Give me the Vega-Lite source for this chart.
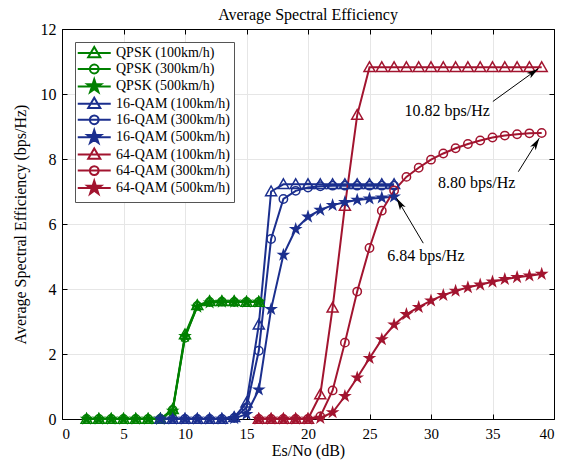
{
  "$schema": "https://vega.github.io/schema/vega-lite/v6.json",
  "width": 492,
  "height": 390,
  "autosize": {"type": "none"},
  "padding": {"left": 62, "top": 29, "right": 13, "bottom": 50},
  "background": "white",
  "title": {"text": "Average Spectral Efficiency", "font": "Liberation Serif", "fontSize": 16, "fontWeight": "normal", "color": "black", "offset": -2},
  "config": {
    "view": {"stroke": null},
    "axis": {
      "labelFont": "Liberation Serif", "labelFontSize": 16, "labelColor": "black",
      "titleFont": "Liberation Serif", "titleFontSize": 16, "titleFontWeight": "normal", "titleColor": "black",
      "domainColor": "black", "domainWidth": 1, "tickColor": "black", "tickWidth": 1,
      "gridColor": "#e6e6e6", "gridWidth": 1
    }
  },
  "resolve": {"axis": {"x": "independent", "y": "independent"}},
  "datasets": {
    "se": [
      {"s":"QPSK (100km/h)","x":2,"y":0},{"s":"QPSK (100km/h)","x":3,"y":0},{"s":"QPSK (100km/h)","x":4,"y":0},{"s":"QPSK (100km/h)","x":5,"y":0},{"s":"QPSK (100km/h)","x":6,"y":0},{"s":"QPSK (100km/h)","x":7,"y":0},{"s":"QPSK (100km/h)","x":8,"y":0},{"s":"QPSK (100km/h)","x":9,"y":0.3},{"s":"QPSK (100km/h)","x":10,"y":2.6},{"s":"QPSK (100km/h)","x":11,"y":3.5},{"s":"QPSK (100km/h)","x":12,"y":3.62},{"s":"QPSK (100km/h)","x":13,"y":3.62},{"s":"QPSK (100km/h)","x":14,"y":3.62},{"s":"QPSK (100km/h)","x":15,"y":3.6},{"s":"QPSK (100km/h)","x":16,"y":3.6},
      {"s":"QPSK (300km/h)","x":2,"y":0},{"s":"QPSK (300km/h)","x":3,"y":0},{"s":"QPSK (300km/h)","x":4,"y":0},{"s":"QPSK (300km/h)","x":5,"y":0},{"s":"QPSK (300km/h)","x":6,"y":0},{"s":"QPSK (300km/h)","x":7,"y":0},{"s":"QPSK (300km/h)","x":8,"y":0},{"s":"QPSK (300km/h)","x":9,"y":0.28},{"s":"QPSK (300km/h)","x":10,"y":2.5},{"s":"QPSK (300km/h)","x":11,"y":3.48},{"s":"QPSK (300km/h)","x":12,"y":3.6},{"s":"QPSK (300km/h)","x":13,"y":3.61},{"s":"QPSK (300km/h)","x":14,"y":3.6},{"s":"QPSK (300km/h)","x":15,"y":3.6},{"s":"QPSK (300km/h)","x":16,"y":3.6},
      {"s":"QPSK (500km/h)","x":2,"y":0},{"s":"QPSK (500km/h)","x":3,"y":0},{"s":"QPSK (500km/h)","x":4,"y":0},{"s":"QPSK (500km/h)","x":5,"y":0},{"s":"QPSK (500km/h)","x":6,"y":0},{"s":"QPSK (500km/h)","x":7,"y":0},{"s":"QPSK (500km/h)","x":8,"y":0},{"s":"QPSK (500km/h)","x":9,"y":0.25},{"s":"QPSK (500km/h)","x":10,"y":2.55},{"s":"QPSK (500km/h)","x":11,"y":3.45},{"s":"QPSK (500km/h)","x":12,"y":3.58},{"s":"QPSK (500km/h)","x":13,"y":3.6},{"s":"QPSK (500km/h)","x":14,"y":3.6},{"s":"QPSK (500km/h)","x":15,"y":3.6},{"s":"QPSK (500km/h)","x":16,"y":3.6},
      {"s":"16-QAM (100km/h)","x":8,"y":0},{"s":"16-QAM (100km/h)","x":9,"y":0},{"s":"16-QAM (100km/h)","x":10,"y":0},{"s":"16-QAM (100km/h)","x":11,"y":0},{"s":"16-QAM (100km/h)","x":12,"y":0},{"s":"16-QAM (100km/h)","x":13,"y":0},{"s":"16-QAM (100km/h)","x":14,"y":0.05},{"s":"16-QAM (100km/h)","x":15,"y":0.5},{"s":"16-QAM (100km/h)","x":16,"y":2.9},{"s":"16-QAM (100km/h)","x":17,"y":7.0},{"s":"16-QAM (100km/h)","x":18,"y":7.22},{"s":"16-QAM (100km/h)","x":19,"y":7.22},{"s":"16-QAM (100km/h)","x":20,"y":7.22},{"s":"16-QAM (100km/h)","x":21,"y":7.22},{"s":"16-QAM (100km/h)","x":22,"y":7.22},{"s":"16-QAM (100km/h)","x":23,"y":7.22},{"s":"16-QAM (100km/h)","x":24,"y":7.22},{"s":"16-QAM (100km/h)","x":25,"y":7.22},{"s":"16-QAM (100km/h)","x":26,"y":7.22},{"s":"16-QAM (100km/h)","x":27,"y":7.22},
      {"s":"16-QAM (300km/h)","x":8,"y":0},{"s":"16-QAM (300km/h)","x":9,"y":0},{"s":"16-QAM (300km/h)","x":10,"y":0},{"s":"16-QAM (300km/h)","x":11,"y":0},{"s":"16-QAM (300km/h)","x":12,"y":0},{"s":"16-QAM (300km/h)","x":13,"y":0},{"s":"16-QAM (300km/h)","x":14,"y":0.03},{"s":"16-QAM (300km/h)","x":15,"y":0.35},{"s":"16-QAM (300km/h)","x":16,"y":2.1},{"s":"16-QAM (300km/h)","x":17,"y":5.54},{"s":"16-QAM (300km/h)","x":18,"y":6.77},{"s":"16-QAM (300km/h)","x":19,"y":7.02},{"s":"16-QAM (300km/h)","x":20,"y":7.12},{"s":"16-QAM (300km/h)","x":21,"y":7.16},{"s":"16-QAM (300km/h)","x":22,"y":7.18},{"s":"16-QAM (300km/h)","x":23,"y":7.18},{"s":"16-QAM (300km/h)","x":24,"y":7.18},{"s":"16-QAM (300km/h)","x":25,"y":7.18},{"s":"16-QAM (300km/h)","x":26,"y":7.18},{"s":"16-QAM (300km/h)","x":27,"y":7.18},
      {"s":"16-QAM (500km/h)","x":8,"y":0},{"s":"16-QAM (500km/h)","x":9,"y":0},{"s":"16-QAM (500km/h)","x":10,"y":0},{"s":"16-QAM (500km/h)","x":11,"y":0},{"s":"16-QAM (500km/h)","x":12,"y":0},{"s":"16-QAM (500km/h)","x":13,"y":0},{"s":"16-QAM (500km/h)","x":14,"y":0.02},{"s":"16-QAM (500km/h)","x":15,"y":0.15},{"s":"16-QAM (500km/h)","x":16,"y":0.9},{"s":"16-QAM (500km/h)","x":17,"y":3.38},{"s":"16-QAM (500km/h)","x":18,"y":5.05},{"s":"16-QAM (500km/h)","x":19,"y":5.84},{"s":"16-QAM (500km/h)","x":20,"y":6.22},{"s":"16-QAM (500km/h)","x":21,"y":6.43},{"s":"16-QAM (500km/h)","x":22,"y":6.58},{"s":"16-QAM (500km/h)","x":23,"y":6.67},{"s":"16-QAM (500km/h)","x":24,"y":6.74},{"s":"16-QAM (500km/h)","x":25,"y":6.78},{"s":"16-QAM (500km/h)","x":26,"y":6.81},{"s":"16-QAM (500km/h)","x":27,"y":6.84},
      {"s":"64-QAM (100km/h)","x":16,"y":0},{"s":"64-QAM (100km/h)","x":17,"y":0},{"s":"64-QAM (100km/h)","x":18,"y":0},{"s":"64-QAM (100km/h)","x":19,"y":0},{"s":"64-QAM (100km/h)","x":20,"y":0},{"s":"64-QAM (100km/h)","x":21,"y":0.75},{"s":"64-QAM (100km/h)","x":22,"y":3.42},{"s":"64-QAM (100km/h)","x":23,"y":6.55},{"s":"64-QAM (100km/h)","x":24,"y":9.35},{"s":"64-QAM (100km/h)","x":25,"y":10.82},{"s":"64-QAM (100km/h)","x":26,"y":10.82},{"s":"64-QAM (100km/h)","x":27,"y":10.82},{"s":"64-QAM (100km/h)","x":28,"y":10.82},{"s":"64-QAM (100km/h)","x":29,"y":10.82},{"s":"64-QAM (100km/h)","x":30,"y":10.82},{"s":"64-QAM (100km/h)","x":31,"y":10.82},{"s":"64-QAM (100km/h)","x":32,"y":10.82},{"s":"64-QAM (100km/h)","x":33,"y":10.82},{"s":"64-QAM (100km/h)","x":34,"y":10.82},{"s":"64-QAM (100km/h)","x":35,"y":10.82},{"s":"64-QAM (100km/h)","x":36,"y":10.82},{"s":"64-QAM (100km/h)","x":37,"y":10.82},{"s":"64-QAM (100km/h)","x":38,"y":10.82},{"s":"64-QAM (100km/h)","x":39,"y":10.82},
      {"s":"64-QAM (300km/h)","x":16,"y":0},{"s":"64-QAM (300km/h)","x":17,"y":0},{"s":"64-QAM (300km/h)","x":18,"y":0},{"s":"64-QAM (300km/h)","x":19,"y":0},{"s":"64-QAM (300km/h)","x":20,"y":0},{"s":"64-QAM (300km/h)","x":21,"y":0.08},{"s":"64-QAM (300km/h)","x":22,"y":0.88},{"s":"64-QAM (300km/h)","x":23,"y":2.35},{"s":"64-QAM (300km/h)","x":24,"y":3.92},{"s":"64-QAM (300km/h)","x":25,"y":5.26},{"s":"64-QAM (300km/h)","x":26,"y":6.41},{"s":"64-QAM (300km/h)","x":27,"y":7.03},{"s":"64-QAM (300km/h)","x":28,"y":7.45},{"s":"64-QAM (300km/h)","x":29,"y":7.73},{"s":"64-QAM (300km/h)","x":30,"y":7.98},{"s":"64-QAM (300km/h)","x":31,"y":8.17},{"s":"64-QAM (300km/h)","x":32,"y":8.33},{"s":"64-QAM (300km/h)","x":33,"y":8.46},{"s":"64-QAM (300km/h)","x":34,"y":8.57},{"s":"64-QAM (300km/h)","x":35,"y":8.66},{"s":"64-QAM (300km/h)","x":36,"y":8.72},{"s":"64-QAM (300km/h)","x":37,"y":8.76},{"s":"64-QAM (300km/h)","x":38,"y":8.79},{"s":"64-QAM (300km/h)","x":39,"y":8.8},
      {"s":"64-QAM (500km/h)","x":16,"y":0},{"s":"64-QAM (500km/h)","x":17,"y":0},{"s":"64-QAM (500km/h)","x":18,"y":0},{"s":"64-QAM (500km/h)","x":19,"y":0},{"s":"64-QAM (500km/h)","x":20,"y":0},{"s":"64-QAM (500km/h)","x":21,"y":0.03},{"s":"64-QAM (500km/h)","x":22,"y":0.2},{"s":"64-QAM (500km/h)","x":23,"y":0.7},{"s":"64-QAM (500km/h)","x":24,"y":1.27},{"s":"64-QAM (500km/h)","x":25,"y":1.87},{"s":"64-QAM (500km/h)","x":26,"y":2.45},{"s":"64-QAM (500km/h)","x":27,"y":2.9},{"s":"64-QAM (500km/h)","x":28,"y":3.22},{"s":"64-QAM (500km/h)","x":29,"y":3.44},{"s":"64-QAM (500km/h)","x":30,"y":3.64},{"s":"64-QAM (500km/h)","x":31,"y":3.81},{"s":"64-QAM (500km/h)","x":32,"y":3.94},{"s":"64-QAM (500km/h)","x":33,"y":4.05},{"s":"64-QAM (500km/h)","x":34,"y":4.13},{"s":"64-QAM (500km/h)","x":35,"y":4.22},{"s":"64-QAM (500km/h)","x":36,"y":4.3},{"s":"64-QAM (500km/h)","x":37,"y":4.36},{"s":"64-QAM (500km/h)","x":38,"y":4.41},{"s":"64-QAM (500km/h)","x":39,"y":4.46}
    ],
    "ann": [
      {"t":"10.82 bps/Hz","tx":31.32,"ty":9.48,"x1":35.03,"y1":9.77,"x2":38.72,"y2":10.78},
      {"t":"8.80 bps/Hz","tx":33.72,"ty":7.26,"x1":37.1,"y1":7.61,"x2":38.8,"y2":8.64},
      {"t":"6.84 bps/Hz","tx":29.58,"ty":5.02,"x1":29.37,"y1":5.41,"x2":27.21,"y2":6.79}
    ]
  },
  "layer": [
    {
      "data": {"name": "se"},
      "mark": {"type": "line", "strokeWidth": 2},
      "encoding": {
        "x": {"field": "x", "type": "quantitative", "scale": {"domain": [0, 40], "nice": false},
              "axis": {"orient": "bottom", "title": "Es/No (dB)", "values": [0,5,10,15,20,25,30,35,40], "tickSize": -5, "labelFontSize": 15, "labelPadding": 12, "titlePadding": 1, "grid": true}},
        "y": {"field": "y", "type": "quantitative", "scale": {"domain": [0, 12], "nice": false},
              "axis": {"orient": "left", "title": "Average Spectral Efficiency (bps/Hz)", "values": [0,2,4,6,8,10,12], "tickSize": -5, "labelPadding": 11, "titlePadding": 12, "grid": true}},
        "color": {"field": "s", "type": "nominal", "legend": null,
          "scale": {"range": ["#1b2f8e","#1b2f8e","#1b2f8e","#a2142f","#a2142f","#a2142f","#008000","#008000","#008000"]}}
      }
    },
    {
      "data": {"name": "se"},
      "transform": [{"filter": "indexof(datum.s,'100km')>=0"}],
      "mark": {"type": "point", "shape": "M0,-1L1,0.75L-1,0.75Z", "filled": false, "size": 121, "strokeWidth": 1.5, "opacity": 1},
      "encoding": {
        "x": {"field": "x", "type": "quantitative", "axis": {"orient": "top", "labels": false, "title": null, "grid": false, "values": [0,5,10,15,20,25,30,35,40], "tickSize": -5}},
        "y": {"field": "y", "type": "quantitative", "axis": {"orient": "right", "labels": false, "title": null, "grid": false, "values": [0,2,4,6,8,10,12], "tickSize": -5}},
        "color": {"field": "s", "type": "nominal", "legend": null}
      }
    },
    {
      "data": {"name": "se"},
      "transform": [{"filter": "indexof(datum.s,'300km')>=0"}],
      "mark": {"type": "point", "shape": "circle", "filled": false, "size": 70, "strokeWidth": 1.5, "opacity": 1},
      "encoding": {
        "x": {"field": "x", "type": "quantitative", "axis": null},
        "y": {"field": "y", "type": "quantitative", "axis": null},
        "color": {"field": "s", "type": "nominal", "legend": null}
      }
    },
    {
      "data": {"name": "se"},
      "transform": [{"filter": "indexof(datum.s,'500km')>=0"}],
      "mark": {"type": "point", "shape": "M0,-1L0.225,-0.309L0.951,-0.309L0.363,0.118L0.588,0.809L0,0.382L-0.588,0.809L-0.363,0.118L-0.951,-0.309L-0.225,-0.309Z", "filled": true, "size": 210, "opacity": 1},
      "encoding": {
        "x": {"field": "x", "type": "quantitative", "axis": null},
        "y": {"field": "y", "type": "quantitative", "axis": null},
        "color": {"field": "s", "type": "nominal", "legend": null}
      }
    },
    {
      "data": {"name": "se"},
      "transform": [{"filter": "false"}],
      "mark": {"type": "point", "filled": true, "size": 121, "strokeWidth": 2, "opacity": 1},
      "encoding": {
        "x": {"field": "x", "type": "quantitative", "axis": null},
        "y": {"field": "y", "type": "quantitative", "axis": null},
        "stroke": {"field": "s", "type": "nominal",
          "scale": {"domain": ["QPSK (100km/h)","QPSK (300km/h)","QPSK (500km/h)","16-QAM (100km/h)","16-QAM (300km/h)","16-QAM (500km/h)","64-QAM (100km/h)","64-QAM (300km/h)","64-QAM (500km/h)"],
                    "range": ["#008000","#008000","#008000","#1b2f8e","#1b2f8e","#1b2f8e","#a2142f","#a2142f","#a2142f"]},
          "legend": {
            "orient": "top-left", "offset": 13, "title": null,
            "labelFont": "Liberation Serif", "labelFontSize": 14, "labelColor": "black",
            "symbolSize": 121, "symbolStrokeWidth": 2, "symbolOpacity": 1, "labelOffset": 23,
            "padding": 4, "rowPadding": -3.6, "strokeColor": "#555555", "fillColor": "white"
          }},
        "fill": {"field": "s", "type": "nominal",
          "scale": {"domain": ["QPSK (100km/h)","QPSK (300km/h)","QPSK (500km/h)","16-QAM (100km/h)","16-QAM (300km/h)","16-QAM (500km/h)","64-QAM (100km/h)","64-QAM (300km/h)","64-QAM (500km/h)"],
                    "range": ["white","white","#008000","white","white","#1b2f8e","white","white","#a2142f"]},
          "legend": {"title": null, "orient": "top-left"}},
        "shape": {"field": "s", "type": "nominal",
          "scale": {"domain": ["QPSK (100km/h)","QPSK (300km/h)","QPSK (500km/h)","16-QAM (100km/h)","16-QAM (300km/h)","16-QAM (500km/h)","64-QAM (100km/h)","64-QAM (300km/h)","64-QAM (500km/h)"],
                    "range": [
                      "M-1.5,0L4.5,0M1.5,-1.1L2.6,0.75L0.4,0.75Z",
                      "M-1.5,0L4.5,0M2.3,0C2.3,0.442 1.942,0.8 1.5,0.8C1.058,0.8 0.7,0.442 0.7,0C0.7,-0.442 1.058,-0.8 1.5,-0.8C1.942,-0.8 2.3,-0.442 2.3,0Z",
                      "M-1.5,0L4.5,0M1.5,-1.3L1.79,-0.399L2.736,-0.402L1.969,0.152L2.264,1.052L1.5,0.494L0.736,1.052L1.031,0.152L0.264,-0.402L1.21,-0.399Z",
                      "M-1.5,0L4.5,0M1.5,-1.1L2.6,0.75L0.4,0.75Z",
                      "M-1.5,0L4.5,0M2.3,0C2.3,0.442 1.942,0.8 1.5,0.8C1.058,0.8 0.7,0.442 0.7,0C0.7,-0.442 1.058,-0.8 1.5,-0.8C1.942,-0.8 2.3,-0.442 2.3,0Z",
                      "M-1.5,0L4.5,0M1.5,-1.3L1.79,-0.399L2.736,-0.402L1.969,0.152L2.264,1.052L1.5,0.494L0.736,1.052L1.031,0.152L0.264,-0.402L1.21,-0.399Z",
                      "M-1.5,0L4.5,0M1.5,-1.1L2.6,0.75L0.4,0.75Z",
                      "M-1.5,0L4.5,0M2.3,0C2.3,0.442 1.942,0.8 1.5,0.8C1.058,0.8 0.7,0.442 0.7,0C0.7,-0.442 1.058,-0.8 1.5,-0.8C1.942,-0.8 2.3,-0.442 2.3,0Z",
                      "M-1.5,0L4.5,0M1.5,-1.3L1.79,-0.399L2.736,-0.402L1.969,0.152L2.264,1.052L1.5,0.494L0.736,1.052L1.031,0.152L0.264,-0.402L1.21,-0.399Z"
                    ]},
          "legend": {"title": null, "orient": "top-left"}}
      }
    },
    {
      "data": {"name": "ann"},
      "mark": {"type": "rule", "color": "black", "strokeWidth": 1},
      "encoding": {
        "x": {"field": "x1", "type": "quantitative", "axis": null},
        "y": {"field": "y1", "type": "quantitative", "axis": null},
        "x2": {"field": "x2"},
        "y2": {"field": "y2"}
      }
    },
    {
      "data": {"name": "ann"},
      "mark": {"type": "text", "font": "Liberation Serif", "fontSize": 16, "color": "black", "align": "center", "baseline": "middle"},
      "encoding": {
        "x": {"field": "tx", "type": "quantitative", "axis": null},
        "y": {"field": "ty", "type": "quantitative", "axis": null},
        "text": {"field": "t"}
      }
    },
    {
      "data": {"name": "ann"},
      "transform": [{"filter": "datum.t == '10.82 bps/Hz'"}],
      "mark": {"type": "point", "shape": "M0,0L-0.55,2L0,1.5L0.55,2Z", "filled": true, "color": "black", "size": 144, "angle": 54, "opacity": 1},
      "encoding": {
        "x": {"field": "x2", "type": "quantitative", "axis": null},
        "y": {"field": "y2", "type": "quantitative", "axis": null}
      }
    },
    {
      "data": {"name": "ann"},
      "transform": [{"filter": "datum.t == '8.80 bps/Hz'"}],
      "mark": {"type": "point", "shape": "M0,0L-0.55,2L0,1.5L0.55,2Z", "filled": true, "color": "black", "size": 144, "angle": 32, "opacity": 1},
      "encoding": {
        "x": {"field": "x2", "type": "quantitative", "axis": null},
        "y": {"field": "y2", "type": "quantitative", "axis": null}
      }
    },
    {
      "data": {"name": "ann"},
      "transform": [{"filter": "datum.t == '6.84 bps/Hz'"}],
      "mark": {"type": "point", "shape": "M0,0L-0.55,2L0,1.5L0.55,2Z", "filled": true, "color": "black", "size": 144, "angle": 329, "opacity": 1},
      "encoding": {
        "x": {"field": "x2", "type": "quantitative", "axis": null},
        "y": {"field": "y2", "type": "quantitative", "axis": null}
      }
    }
  ]
}
